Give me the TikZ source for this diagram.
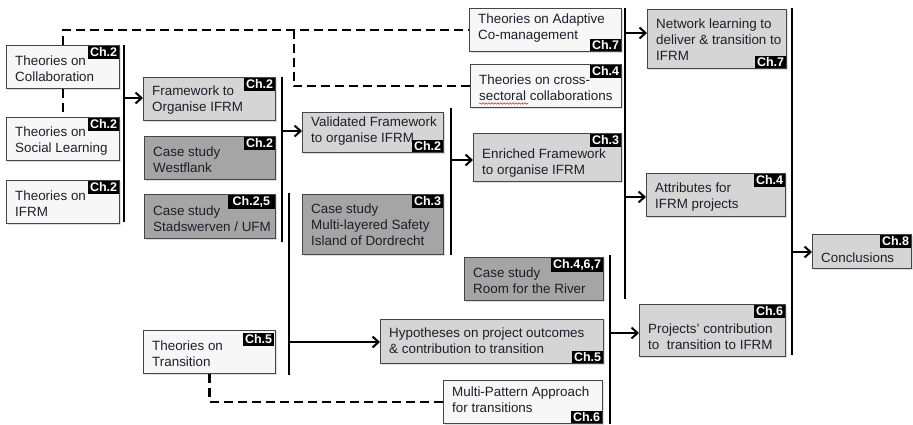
\documentclass[tikz,border=0pt]{standalone}
\usepackage{fontspec}
\setmainfont{Liberation Sans}
\usetikzlibrary{arrows.meta,shadows,decorations.pathmorphing}

\definecolor{boxwhite}{HTML}{F7F7F7}
\definecolor{boxlight}{HTML}{D5D5D5}
\definecolor{boxdark}{HTML}{A5A5A5}
\definecolor{boxline}{HTML}{454545}
\definecolor{ink}{HTML}{1E1E2A}
\definecolor{spellred}{HTML}{E03030}

\tikzset{
  flow/.style={draw=boxline, line width=1.1pt, inner sep=0pt,
    drop shadow={shadow xshift=1.2pt, shadow yshift=-1.2pt, opacity=0.25}},
  plain/.style={flow, fill=boxwhite},
  light/.style={flow, fill=boxlight},
  dark/.style={flow, fill=boxdark},
  boxtext/.style={inner sep=0pt, align=left, text=ink,
    font=\fontsize{13.4}{16}\selectfont},
  chlabel/.style={fill=black, text=white,
    font=\fontsize{12.5}{12.5}\selectfont\bfseries, inner xsep=1.8pt, inner ysep=1.6pt},
  chtop/.style={chlabel, anchor=north east},
  chbot/.style={chlabel, anchor=south east},
  bar/.style={line width=2.5pt},
  feed/.style={line width=2pt, -{Straight Barb[length=6pt,width=11pt]}},
  link/.style={line width=2.7pt, dash pattern=on 9pt off 5pt},
}

% #1 name, #2 style, #3-#6 corners (x1,y1,x2,y2), #7 text, #8 text drop
\newcommand{\flowbox}[8]{%
  \node[#2, minimum width={(#5-#3)*1pt}, minimum height={(#6-#4)*1pt},
        anchor=north west] (#1) at (#3,#4) {};
  \node[boxtext, anchor=west] (#1-t) at ([xshift=9pt, yshift={-(#8)*1pt}]#1.west) {#7};
}

\begin{document}
\begin{tikzpicture}[x=1pt, y=-1pt]
  \fill[white] (0,0) rectangle (913,424);
  \useasboundingbox (0,0) rectangle (913,424);

  % branch point of the upper dashed link
  \coordinate (split) at (294,29.5);

  % ---- boxes ----
  \flowbox{collab}{plain}{6}{45}{119}{88}{Theories on\\Collaboration}{2}
  \flowbox{social}{plain}{6}{117}{119}{160}{Theories on\\Social Learning}{2}
  \flowbox{ifrm}{plain}{6}{180}{119}{223}{Theories on\\IFRM}{2}

  \flowbox{frame}{light}{143}{77}{275}{120}{Framework to\\Organise IFRM}{1}
  \flowbox{westfl}{dark}{144}{136}{275}{179}{Case study\\Westflank}{2}
  \flowbox{stads}{dark}{144}{194}{275}{238}{Case study\\Stadswerven / UFM}{2}
  \flowbox{trans}{plain}{143}{330}{275}{373}{Theories on\\Transition}{2}

  \flowbox{valid}{light}{302}{112}{443}{152}{Validated Framework\\to organise IFRM}{-2}
  \flowbox{multil}{dark}{302}{194}{443}{254}{Case study\\Multi-layered Safety\\Island of Dordrecht}{0}

  \flowbox{adapt}{plain}{469}{8}{621}{51}{Theories on Adaptive\\Co-management}{-2}
  \flowbox{cross}{plain}{470}{64}{621}{107}{Theories on cross-\\sectoral collaborations}{2}
  \flowbox{enrich}{light}{473}{133}{621}{181}{Enriched Framework\\to organise IFRM}{5}
  \flowbox{room}{dark}{464}{257}{603}{300}{Case study\\Room for the River}{2}
  \flowbox{hypo}{light}{380}{319}{603}{363}{Hypotheses on project outcomes\\\& contribution to transition}{-1}
  \flowbox{mpat}{plain}{443}{380}{602}{423}{Multi-Pattern Approach\\for transitions}{-2}

  \flowbox{network}{light}{647}{9}{786}{68}{Network learning to\\deliver \& transition to\\IFRM}{1}
  \flowbox{attr}{light}{646}{173}{785}{216}{Attributes for\\IFRM projects}{2}
  \flowbox{proj}{light}{639}{304}{785}{356}{Projects' contribution\\to\ \ transition to IFRM}{6}
  \flowbox{concl}{light}{812}{234}{911}{268}{Conclusions}{6}

  % spell-check underline under "sectoral"
  \draw[spellred, line width=0.6pt, decorate,
        decoration={snake, amplitude=0.7pt, segment length=3pt}]
        (479,103.5) -- (528,103.5);

  % ---- chapter labels ----
  \node[chtop] (collab-ch) at ([xshift=-1pt,yshift=-1pt]collab.north east) {Ch.2};
  \node[chtop] (social-ch) at ([xshift=-1pt,yshift=-1pt]social.north east) {Ch.2};
  \node[chtop] (ifrm-ch) at ([xshift=-1pt,yshift=-1pt]ifrm.north east) {Ch.2};
  \node[chtop] (frame-ch) at ([xshift=-1pt,yshift=-1pt]frame.north east) {Ch.2};
  \node[chtop] (westfl-ch) at ([xshift=-1pt,yshift=-1pt]westfl.north east) {Ch.2};
  \node[chtop, minimum width=47pt, align=left] (stads-ch) at ([xshift=-1pt,yshift=-1pt]stads.north east) {Ch.2,5};
  \node[chtop] (trans-ch) at ([xshift=-2pt,yshift=-3pt]trans.north east) {Ch.5};
  \node[chbot] (valid-ch) at ([xshift=-1pt,yshift=1pt]valid.south east) {Ch.2};
  \node[chtop] (multil-ch) at ([xshift=-1pt,yshift=-1pt]multil.north east) {Ch.3};
  \node[chbot] (adapt-ch) at ([xshift=-1pt,yshift=1pt]adapt.south east) {Ch.7};
  \node[chtop] (cross-ch) at ([xshift=-1pt,yshift=-1pt]cross.north east) {Ch.4};
  \node[chtop] (enrich-ch) at ([xshift=-1pt,yshift=-1pt]enrich.north east) {Ch.3};
  \node[chtop] (room-ch) at ([xshift=-1pt,yshift=-1pt]room.north east) {Ch.4,6,7};
  \node[chbot] (hypo-ch) at ([xshift=-1pt,yshift=1pt]hypo.south east) {Ch.5};
  \node[chbot] (mpat-ch) at ([xshift=-1pt,yshift=1pt]mpat.south east) {Ch.6};
  \node[chbot] (network-ch) at ([xshift=-1pt,yshift=1pt]network.south east) {Ch.7};
  \node[chtop] (attr-ch) at ([xshift=-1pt,yshift=-1pt]attr.north east) {Ch.4};
  \node[chtop] (proj-ch) at ([xshift=-1pt,yshift=-1pt]proj.north east) {Ch.6};
  \node[chtop] (concl-ch) at ([xshift=-1pt,yshift=-1pt]concl.north east) {Ch.8};

  % ---- dashed links ----
  \draw[link] (collab.north) |- (adapt.west);
  \draw[link] (split) |- (cross.west);
  \draw[link] (collab.south) -- (social.north);
  \draw[link] (trans.south) |- (mpat.west);

  % ---- collecting bars ----
  \coordinate (b1t) at (124,45);  \coordinate (b1b) at (124,222);
  \coordinate (b2t) at (282,77);  \coordinate (b2b) at (282,242);
  \coordinate (b3t) at (289,193); \coordinate (b3b) at (289,375);
  \coordinate (b4t) at (451,108); \coordinate (b4b) at (451,255);
  \coordinate (b5t) at (625,8);   \coordinate (b5b) at (625,299);
  \coordinate (b6t) at (610,255); \coordinate (b6b) at (610,424);
  \coordinate (b7t) at (792,8);   \coordinate (b7b) at (792,355);
  \foreach \b in {1,...,7} \draw[bar] (b\b t) -- (b\b b);

  % ---- arrows out of the bars ----
  \coordinate (f1) at (124,98);
  \coordinate (f2) at (282,131);
  \coordinate (f3) at (289,342);
  \coordinate (f4) at (451,160);
  \coordinate (f5) at (625,33);
  \coordinate (f6) at (625,197);
  \coordinate (f7) at (610,333);
  \coordinate (f8) at (792,252);
  \draw[feed] (f1) -- (f1 -| frame.west);
  \draw[feed] (f2) -- (f2 -| valid.west);
  \draw[feed] (f3) -- (f3 -| hypo.west);
  \draw[feed] (f4) -- (f4 -| enrich.west);
  \draw[feed] (f5) -- (f5 -| network.west);
  \draw[feed] (f6) -- (f6 -| attr.west);
  \draw[feed] (f7) -- (f7 -| proj.west);
  \draw[feed] (f8) -- (f8 -| concl.west);
\end{tikzpicture}
\end{document}
